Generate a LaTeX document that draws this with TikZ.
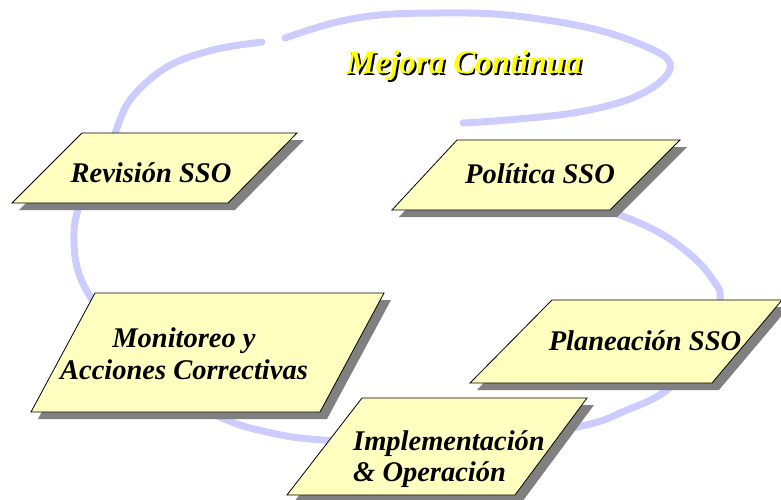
\documentclass[tikz,border=0pt]{standalone}
\usepackage{fontspec}
\setmainfont{Liberation Serif}
\begin{document}
\begin{tikzpicture}[x=1pt,y=-1pt,
  loopline/.style={draw={rgb,255:red,204;green,204;blue,255},line width=7pt,line cap=round},
  boxshadow/.style={fill={rgb,255:red,128;green,128;blue,128}},
  boxfill/.style={fill={rgb,255:red,255;green,255;blue,192},draw=black,line width=0.8pt},
  boxtext/.style={font=\fontsize{28.5}{31.5}\selectfont\bfseries\itshape,inner sep=0pt,text=black},
  titletext/.style={font=\fontsize{33}{36}\selectfont\bfseries\itshape,inner sep=0pt,anchor=base}
]
\useasboundingbox (0,0) rectangle (781,500);
\clip (0,0) rectangle (781,500);
% continuous improvement loop
\draw[loopline] plot[smooth,tension=0.6] coordinates {(262,42) (213,50) (167,67) (130,100) (112,140) (90,180) (78,210) (74,233) (77,267) (92,300) (140,375) (220,417) (267,432) (323,440) (450,445) (577,427) (627,410) (667,390) (705,350) (720,300) (713,280) (693,257) (660,233) (615,213) (580,203)};
\draw[loopline] plot[smooth,tension=0.6] coordinates {(285,38) (333,23) (380,15) (440,13) (507,15) (590,28) (647,47) (670,63) (660,82) (627,100) (573,113) (507,120) (463,123)};
% boxes
\foreach \a/\b/\c/\d in {
  {(82,133)}/{(297,133)}/{(228,203)}/{(12,203)},
  {(457,140)}/{(680,140)}/{(610,210)}/{(392,210)},
  {(95,293)}/{(384,293)}/{(320,412)}/{(31,412)},
  {(552,300)}/{(782,300)}/{(712,383)}/{(470,383)},
  {(362,398)}/{(587,398)}/{(515,495)}/{(287,495)}}{
  \fill[boxshadow,shift={(7,7)}] \a -- \b -- \c -- \d -- cycle;
  \path[boxfill] \a -- \b -- \c -- \d -- cycle;
}
\node[boxtext,anchor=base] (rev) at (151,182) {Revisión SSO};
\node[boxtext,anchor=base] (pol) at (540,183) {Política SSO};
\node[boxtext,align=center] (mon) at (184,354) {Monitoreo y\\Acciones Correctivas};
\node[boxtext,anchor=base] (pla) at (645,350) {Planeación SSO};
\node[boxtext,align=left,anchor=west] (imp) at (353,459) {Implementación\\\& Operación};
% title with shadow
\node[titletext,text=black] (titsh) at (466,76) {Mejora Continua};
\node[titletext,text={rgb,255:red,255;green,255;blue,0}] (tit) at (464,74) {Mejora Continua};
\end{tikzpicture}
\end{document}
